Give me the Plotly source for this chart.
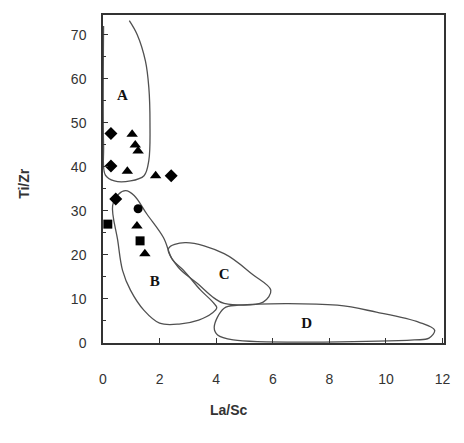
import plotly.graph_objects as go

# ---- data ----
diamond_x = [0.28, 0.28, 0.45, 2.41]
diamond_y = [47.6, 40.2, 32.7, 38.0]
triangle_x = [1.03, 1.14, 1.24, 0.86, 1.86, 1.20, 1.48]
triangle_y = [47.4, 45.0, 43.6, 39.0, 38.0, 26.6, 20.3]
square_x = [0.17, 1.31]
square_y = [27.0, 23.2]
circle_x = [1.24]
circle_y = [30.5]

# field boundaries
fieldA_x = [0.02, 0.02, 0.08, 0.40, 0.97, 1.45, 1.62, 1.66, 1.62, 1.50, 1.21, 0.93]
fieldA_y = [72.0, 45.0, 38.2, 36.8, 36.8, 38.0, 41.5, 50.0, 58.0, 64.0, 70.0, 73.2]
fieldB_x = [0.34, 0.55, 0.80, 1.10, 1.55, 2.14, 2.45, 2.85, 3.45, 3.85, 4.02, 3.86, 3.38, 2.69, 2.00, 1.45, 0.97, 0.69, 0.52, 0.34]
fieldB_y = [31.2, 33.8, 34.6, 33.5, 29.3, 23.9, 19.0, 16.5, 12.0, 9.5, 8.0, 6.8, 5.2, 4.3, 4.5, 7.4, 12.0, 16.5, 23.3, 31.2]
fieldC_x = [2.31, 2.90, 4.28, 5.30, 5.93, 5.66, 4.28, 3.93, 3.34, 2.66, 2.31]
fieldC_y = [21.4, 22.8, 20.3, 15.5, 12.0, 9.3, 9.0, 10.2, 13.5, 17.2, 21.4]
fieldD_x = [3.93, 4.28, 4.80, 8.28, 9.66, 11.17, 11.72, 11.52, 11.00, 4.60, 4.05, 3.93]
fieldD_y = [3.6, 7.9, 8.6, 8.6, 7.0, 4.7, 2.9, 1.1, 0.7, 0.7, 1.8, 3.6]

field_labels = ["A", "B", "C", "D"]
field_label_x = [0.69, 1.83, 4.28, 7.20]
field_label_y = [56.0, 13.8, 15.3, 4.3]

x_ticks = [0, 2, 4, 6, 8, 10, 12]
y_ticks = [0, 10, 20, 30, 40, 50, 60, 70]

fig = go.Figure()

line_style = dict(color="#505050", width=1.3, shape="spline", smoothing=1.0)
for fx, fy in [(fieldA_x, fieldA_y), (fieldB_x, fieldB_y), (fieldC_x, fieldC_y), (fieldD_x, fieldD_y)]:
    fig.add_trace(go.Scatter(x=fx, y=fy, mode="lines", line=line_style,
                             hoverinfo="skip", showlegend=False))

fig.add_trace(go.Scatter(x=field_label_x, y=field_label_y, mode="text",
                         text=["<b>%s</b>" % t for t in field_labels],
                         textfont=dict(family="Liberation Serif", size=15, color="#111111"),
                         showlegend=False, hoverinfo="skip"))

mk = dict(color="black", line=dict(width=0))
fig.add_trace(go.Scatter(x=diamond_x, y=diamond_y, mode="markers",
                         marker=dict(mk, symbol="diamond", size=10), showlegend=False))
fig.add_trace(go.Scatter(x=triangle_x, y=triangle_y, mode="markers",
                         marker=dict(mk, symbol="triangle-up", size=10), showlegend=False))
fig.add_trace(go.Scatter(x=square_x, y=square_y, mode="markers",
                         marker=dict(mk, symbol="square", size=9), showlegend=False))
fig.add_trace(go.Scatter(x=circle_x, y=circle_y, mode="markers",
                         marker=dict(mk, symbol="circle", size=9), showlegend=False))

axis_common = dict(showgrid=False, zeroline=False, showline=True, linecolor="#333333",
                   linewidth=1.5, mirror=True, ticks="inside", tickcolor="#333333",
                   ticklen=5, tickwidth=1, ticklabeloverflow="allow",
                   tickfont=dict(family="Liberation Sans", size=14, color="#333333"))

fig.update_xaxes(axis_common, range=[0, 12.05], tickvals=x_ticks,
                 ticklabelstandoff=22)
fig.update_yaxes(axis_common, range=[0, 74.5], tickvals=y_ticks,
                 ticklabelstandoff=12,
                 minor=dict(dtick=5, ticks="inside", ticklen=3, tickcolor="#333333"))

fig.add_annotation(text="<b>Ti/Zr</b>", xref="paper", yref="paper", x=-0.232, y=0.488,
                   xanchor="center", yanchor="middle",
                   textangle=-90, showarrow=False,
                   font=dict(family="Liberation Sans", size=14, color="#333333"))
fig.add_annotation(text="<b>La/Sc</b>", xref="paper", yref="paper", x=0.37, y=-0.203,
                   xanchor="center", yanchor="middle",
                   showarrow=False,
                   font=dict(family="Liberation Sans", size=14, color="#333333"))

# the page body adds an 8px margin on every side: size the figure so it fits without
# scrollbars and the plot area lands where the reference's is
fig.update_layout(width=448, height=427, margin=dict(l=95, r=8, t=5, b=92),
                  plot_bgcolor="white", paper_bgcolor="white")

fig.write_html("out.html")
